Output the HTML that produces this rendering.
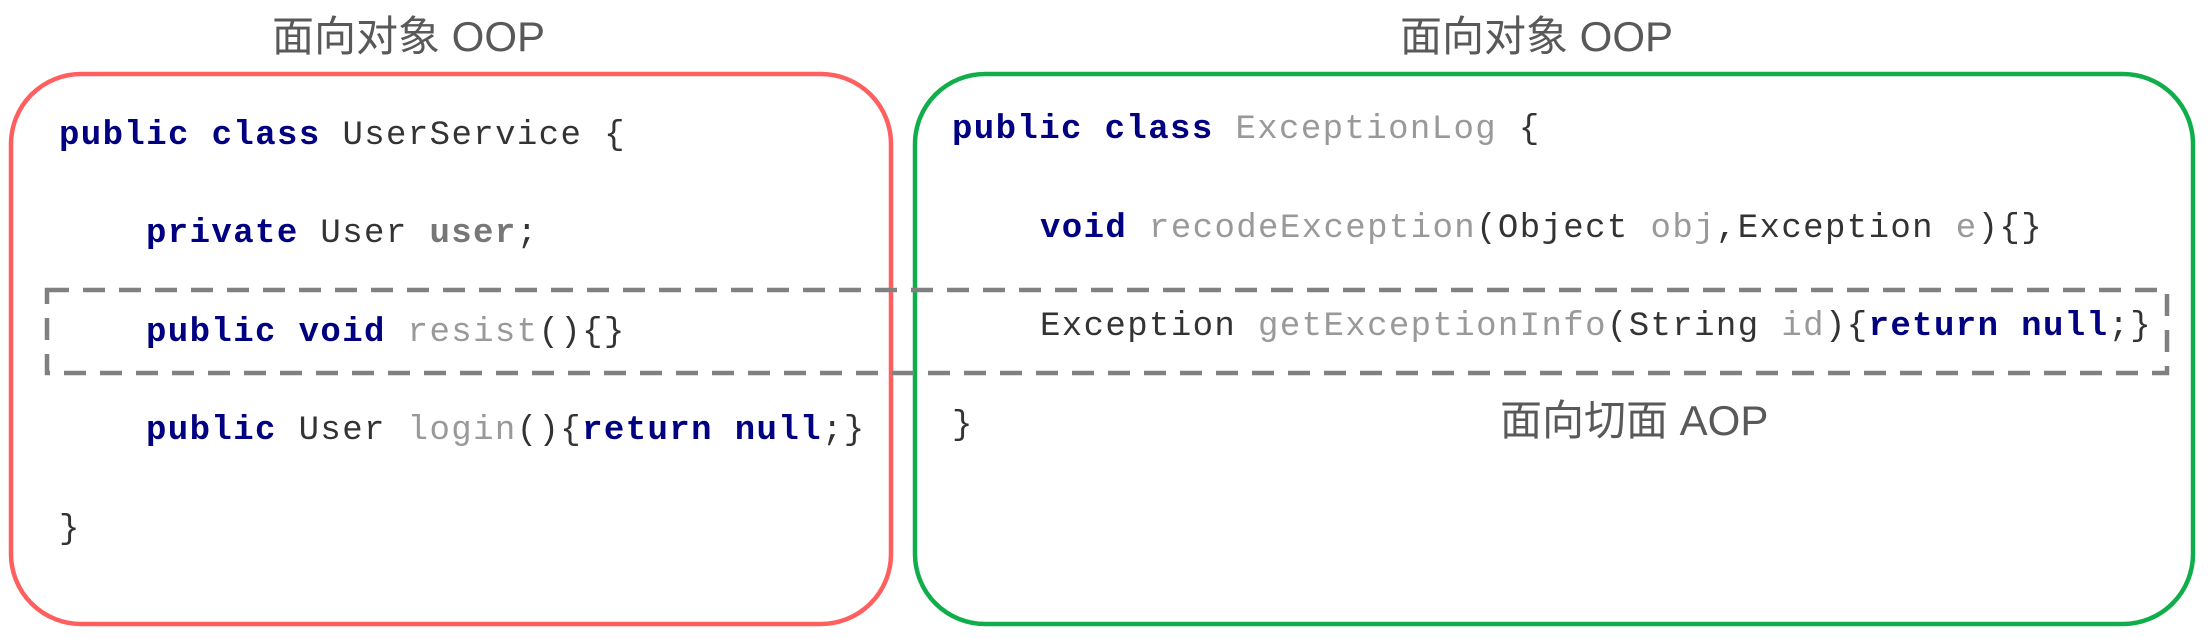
<!DOCTYPE html>
<html><head><meta charset="utf-8"><style>
body{margin:0;width:2208px;height:638px;background:#fff;position:relative;overflow:hidden}
.t{position:absolute;font-family:"Liberation Sans","Noto Sans CJK SC",sans-serif;font-size:42px;color:#595959;line-height:1;white-space:nowrap}
.c{position:absolute;font-family:"Liberation Mono",monospace;font-size:34px;letter-spacing:1.4px;line-height:1;white-space:pre;color:#333}
.k{color:#000080;font-weight:bold}
.g{color:#999}
.gb{color:#777;font-weight:bold}
</style></head><body>
<svg width="2208" height="638" style="position:absolute;left:0;top:0">
<rect x="11" y="74" width="880" height="550" rx="70" fill="none" stroke="#ff5f5f" stroke-width="4.5"/>
<rect x="915" y="74" width="1278" height="550" rx="70" fill="none" stroke="#10ae4b" stroke-width="4.5"/>
<rect x="47" y="290" width="2120" height="83" fill="none" stroke="#808080" stroke-width="4.5" stroke-dasharray="22,14"/>
</svg>
<div class="t" style="left:272px;top:16px">面向对象 OOP</div>
<div class="t" style="left:1400px;top:16px">面向对象 OOP</div>
<div class="t" style="left:1500px;top:400px">面向切面 AOP</div>

<div class="c" style="left:59px;top:119px"><span class="k">public class</span> UserService {</div>
<div class="c" style="left:146px;top:217px"><span class="k">private</span> User <span class="gb">user</span>;</div>
<div class="c" style="left:146px;top:316px"><span class="k">public void</span> <span class="g">resist</span>(){}</div>
<div class="c" style="left:146px;top:414px"><span class="k">public</span> User <span class="g">login</span>(){<span class="k">return null</span>;}</div>
<div class="c" style="left:59px;top:513px">}</div>

<div class="c" style="left:952px;top:113px"><span class="k">public class</span> <span class="g">ExceptionLog</span> {</div>
<div class="c" style="left:1040px;top:212px"><span class="k">void</span> <span class="g">recodeException</span>(Object <span class="g">obj</span>,Exception <span class="g">e</span>){}</div>
<div class="c" style="left:1040px;top:310px">Exception <span class="g">getExceptionInfo</span>(String <span class="g">id</span>){<span class="k">return null</span>;}</div>
<div class="c" style="left:952px;top:409px">}</div>
</body></html>
